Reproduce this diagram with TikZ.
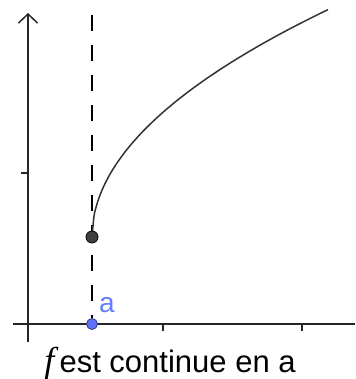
\documentclass[tikz,border=0pt]{standalone}
\usepackage{fontspec}
\setmainfont{Liberation Sans}
\newfontfamily\serifit{Liberation Serif}
\usetikzlibrary{arrows.meta}
\definecolor{ptblue}{RGB}{95,115,250}
\definecolor{lblblue}{RGB}{100,125,255}
\tikzset{
    axisline/.style={line width=1.5pt, black!85},
    dot/.style={circle, inner sep=0pt, minimum size=12pt, draw, line width=0.8pt},
}
\begin{document}
\begin{tikzpicture}[x=1pt, y=1pt]
    % frame of the reference picture (origin = where the axes cross)
    \useasboundingbox (-28,-55) rectangle (327,324);
    \def\av{64}   % abscissa of a
    \def\fa{87}   % f(a)
    \def\k{14.8}  % y = f(a) + k*sqrt(x-a)
    % axes
    \draw[axisline, -{Straight Barb[length=9pt, width=19pt, line width=1.5pt]}] (0,-18) -- (0,311);
    \draw[axisline] (-15,0) -- (327,0);
    % ticks on x, one on y
    \foreach \tx in {135, 274} {
        \draw[axisline] (\tx,0) -- (\tx,-7);
    }
    \draw[axisline] (0,151) -- (-7,151);
    % vertical guide at x = a
    \coordinate (top) at (\av,309);
    \node[dot, draw=ptblue!50!black, fill=ptblue, minimum size=11pt] (A) at (\av,0) {};
    \draw[line width=1.5pt, dash pattern=on 16pt off 14pt] (top) -- (A);
    \node[lblblue, font=\fontsize{28}{30}\selectfont, anchor=south west, inner sep=0pt] (la) at (71,11) {a};
    % branch of the curve, starting at (a, f(a))
    \draw[line width=1.5pt, black!80] plot[domain=0:236, samples=120, smooth] ({\av+\x},{\fa+\k*sqrt(\x)});
    \node[dot, draw=black, fill=black!75] (P) at (\av,\fa) {};
    % caption
    \node[anchor=base, inner sep=0pt, font=\fontsize{31}{36}\selectfont] (cap) at (142,-48) {{\serifit\itshape\fontsize{36}{40}\selectfont f}\,est continue en a};
\end{tikzpicture}
\end{document}
